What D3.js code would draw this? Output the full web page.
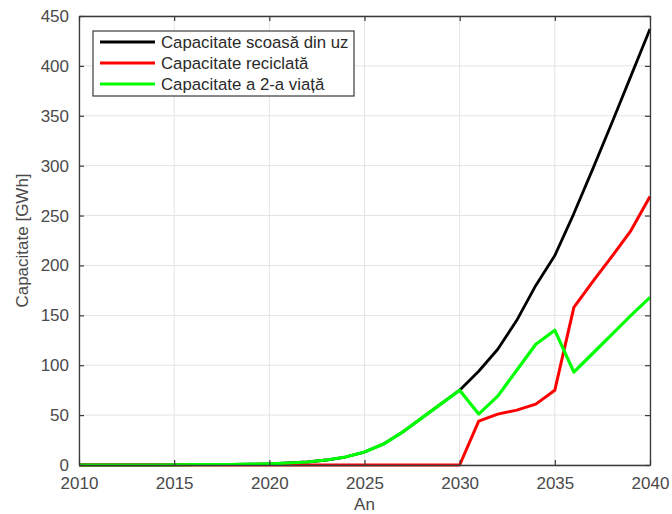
<!DOCTYPE html>
<html>
<head>
<meta charset="utf-8">
<script src="https://cdn.jsdelivr.net/npm/d3@7"></script>
<style>
  html, body { margin: 0; padding: 0; background: #fff; }
  svg { display: block; font-family: "Liberation Sans", Arial, sans-serif; }
</style>
</head>
<body>
<svg id="chart" width="672" height="514"></svg>
<script>
// Years on the x axis
const years = d3.range(2010, 2041);

// Retired capacity (GWh)
const retired = [0, 0, 0, 0, 0, 0.2, 0.3, 0.4, 0.5, 0.8, 1.2, 2, 3, 5, 8, 13, 21, 33, 47, 61, 75,
                 94, 116, 145, 180, 210, 252, 297, 343, 390, 437];
// Recycled capacity (GWh)
const recycled = [0, 0, 0, 0, 0, 0, 0, 0, 0, 0, 0, 0, 0, 0, 0, 0, 0, 0, 0, 0, 0,
                  44, 51, 55, 61, 75, 158, 184, 209, 235, 269];
// Second-life capacity (GWh)
const secondLife = [0, 0, 0, 0, 0, 0.2, 0.3, 0.4, 0.5, 0.8, 1.2, 2, 3, 5, 8, 13, 21, 33, 47, 61, 75,
                    51, 69, 95, 121, 135, 93, 112, 131, 150, 168];

const seriesNames = ["Capacitate scoasă din uz", "Capacitate reciclată", "Capacitate a 2-a viață"];
const seriesColors = ["#000000", "#ff0000", "#00ff00"];
const seriesWidths = [2.8, 3, 3.2];
const seriesValues = [retired, recycled, secondLife];

const xTicks = [2010, 2015, 2020, 2025, 2030, 2035, 2040];
const yTicks = [0, 50, 100, 150, 200, 250, 300, 350, 400, 450];

const margin = { left: 79, right: 22, top: 16, bottom: 49 };
const W = 672, H = 514;
const svg = d3.select("#chart");

const x = d3.scaleLinear().domain([2010, 2040]).range([margin.left, W - margin.right]);
const y = d3.scaleLinear().domain([0, 450]).range([H - margin.bottom, margin.top]);

const axisColor = "#3a3a3a";
const textColor = "#4a4a4a";
const fontSize = 17;

// grid
const grid = svg.append("g");
grid.selectAll("line.gx").data(xTicks).join("line")
  .attr("x1", d => x(d)).attr("x2", d => x(d))
  .attr("y1", y(0)).attr("y2", y(450))
  .attr("stroke", "#e3e3e3").attr("stroke-width", 1);
grid.selectAll("line.gy").data(yTicks).join("line")
  .attr("y1", d => y(d)).attr("y2", d => y(d))
  .attr("x1", x(2010)).attr("x2", x(2040))
  .attr("stroke", "#e3e3e3").attr("stroke-width", 1);

// series lines (second-life drawn last, on top)
const line = d3.line().x((d, i) => x(years[i])).y(d => y(d));
seriesValues.forEach((vals, k) => {
  svg.append("path")
    .datum(vals)
    .attr("d", line)
    .attr("fill", "none")
    .attr("stroke", seriesColors[k])
    .attr("stroke-width", seriesWidths[k])
    .attr("stroke-linejoin", "round");
});

// axes: labelled bottom/left, inward ticks on all four sides
const tickLen = 5;
const styleAxis = g => {
  g.select(".domain").attr("stroke", axisColor).attr("stroke-width", 1.3);
  g.selectAll(".tick line").attr("stroke", axisColor).attr("stroke-width", 1.2);
  g.selectAll(".tick text").attr("fill", textColor).attr("font-size", fontSize)
    .attr("font-family", "Liberation Sans, Arial, sans-serif");
};

svg.append("g").attr("transform", `translate(0,${y(0)})`)
  .call(d3.axisBottom(x).tickValues(xTicks).tickFormat(d3.format("d"))
    .tickSizeInner(-tickLen).tickSizeOuter(0).tickPadding(12))
  .call(styleAxis);
svg.append("g").attr("transform", `translate(${x(2010)},0)`)
  .call(d3.axisLeft(y).tickValues(yTicks).tickFormat(d3.format("d"))
    .tickSizeInner(-tickLen).tickSizeOuter(0).tickPadding(10))
  .call(styleAxis);
svg.append("g").attr("transform", `translate(0,${y(450)})`)
  .call(d3.axisTop(x).tickValues(xTicks).tickFormat("")
    .tickSizeInner(-tickLen).tickSizeOuter(0))
  .call(styleAxis);
svg.append("g").attr("transform", `translate(${x(2040)},0)`)
  .call(d3.axisRight(y).tickValues(yTicks).tickFormat("")
    .tickSizeInner(-tickLen).tickSizeOuter(0))
  .call(styleAxis);

// axis titles
svg.append("text")
  .attr("x", (x(2010) + x(2040)) / 2).attr("y", H - 4)
  .attr("text-anchor", "middle").attr("fill", textColor).attr("font-size", fontSize)
  .text("An");
svg.append("text")
  .attr("transform", `translate(28,${(y(0) + y(450)) / 2}) rotate(-90)`)
  .attr("text-anchor", "middle").attr("fill", textColor).attr("font-size", fontSize)
  .text("Capacitate [GWh]");

// legend
const legend = svg.append("g").attr("transform", "translate(93,31)");
legend.append("rect")
  .attr("width", 261).attr("height", 65)
  .attr("fill", "#fff").attr("stroke", axisColor).attr("stroke-width", 1.2);
seriesNames.forEach((name, k) => {
  const ry = 11 + k * 21;
  legend.append("line")
    .attr("x1", 7).attr("x2", 62).attr("y1", ry).attr("y2", ry)
    .attr("stroke", seriesColors[k]).attr("stroke-width", 3);
  legend.append("text")
    .attr("x", 68).attr("y", ry).attr("dy", "0.36em")
    .attr("fill", "#2a2a2a").attr("font-size", 16.8)
    .text(name);
});
</script>
</body>
</html>
